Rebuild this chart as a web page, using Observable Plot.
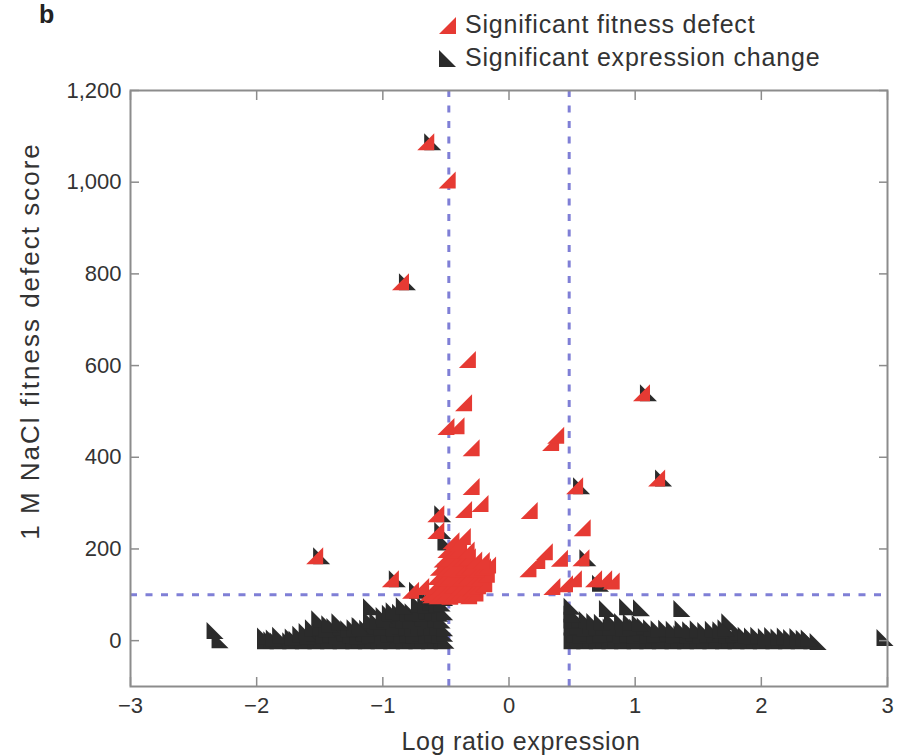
<!DOCTYPE html>
<html>
<head>
<meta charset="utf-8">
<script src="https://cdn.jsdelivr.net/npm/d3@7"></script>
<script src="https://cdn.jsdelivr.net/npm/@observablehq/plot@0.6"></script>
<style>
  body { margin: 0; background: #fff; }
  #wrap { position: relative; width: 904px; height: 756px; font-family: "Liberation Sans", Arial, sans-serif; color: #333; overflow: hidden; }
  #panel { position: absolute; left: 39px; top: 0px; font-weight: bold; font-size: 25px; color: #222; }
  #legend { position: absolute; left: 436px; top: 8px; font-size: 25px; letter-spacing: 0.8px; line-height: 33px; }
  #legend .row { display: flex; align-items: center; white-space: nowrap; }
  #legend svg { margin-right: 7px; }
  #chart { position: absolute; left: 0; top: 70px; }
  #xlabel { position: absolute; left: 271px; width: 500px; top: 727px; text-align: center; font-size: 25px; letter-spacing: 0.7px; }
  #ylabel { position: absolute; left: 30px; top: 341px; transform: translate(-50%, -50%) rotate(-90deg); white-space: nowrap; font-size: 26px; letter-spacing: 2px; }
</style>
</head>
<body>
<div id="wrap">
  <div id="panel">b</div>
  <div id="legend">
    <div class="row"><svg width="22" height="20"><polygon points="3,19 20,19 20,2" fill="#e63a33"/></svg><span>Significant fitness defect</span></div>
    <div class="row"><svg width="22" height="20"><polygon points="3,2 3,19 20,19" fill="#2b2b2b"/></svg><span>Significant expression change</span></div>
  </div>
  <div id="chart"></div>
  <div id="xlabel">Log ratio expression</div>
  <div id="ylabel">1 M NaCl fitness defect score</div>
</div>
<script>
// ---- data ----
const xTicks = [-3, -2, -1, 0, 1, 2, 3];
const yTicks = [0, 200, 400, 600, 800, 1000, 1200];
const xThresholds = [-0.477, 0.477];
const yThreshold = [100];

// Significant fitness defect (red): isolated genes [log ratio, score]
const fitnessOutliers = [
  [-0.66, 1088], [-0.49, 1005], [-0.86, 783], [-0.33, 613], [1.05, 541], [-0.36, 519],
  [-0.50, 467], [-0.42, 469], [-0.30, 421], [0.33, 432], [0.37, 448], [1.17, 355],
  [0.52, 338], [-0.30, 336], [-0.36, 286], [-0.23, 299], [0.16, 284], [-0.58, 277],
  [-0.58, 240], [0.58, 246], [0.28, 194], [0.15, 157], [0.22, 175], [0.40, 180],
  [0.57, 181], [0.34, 118], [0.44, 124], [0.51, 135], [0.67, 135], [0.75, 135],
  [0.81, 130], [-1.54, 185], [-0.94, 135], [-0.78, 110], [-0.70, 118], [-0.64, 105]
];
// Significant fitness defect (red): dense cluster left of the threshold
const fitnessCluster = [
  [-0.62, 100], [-0.57, 98], [-0.52, 102], [-0.47, 97], [-0.42, 100], [-0.37, 103], [-0.32, 98], [-0.27, 104],
  [-0.60, 120], [-0.55, 118], [-0.50, 116], [-0.45, 121], [-0.40, 117], [-0.35, 119], [-0.30, 115], [-0.25, 120], [-0.20, 124],
  [-0.58, 140], [-0.53, 137], [-0.48, 141], [-0.43, 136], [-0.38, 139], [-0.33, 142], [-0.28, 136], [-0.23, 140], [-0.18, 145],
  [-0.56, 160], [-0.51, 158], [-0.46, 162], [-0.41, 157], [-0.36, 160], [-0.31, 163], [-0.26, 156], [-0.21, 161], [-0.17, 165],
  [-0.53, 178], [-0.48, 181], [-0.43, 177], [-0.38, 180], [-0.33, 183], [-0.28, 176], [-0.22, 175],
  [-0.50, 199], [-0.45, 197], [-0.40, 202], [-0.34, 198],
  [-0.46, 218], [-0.41, 214], [-0.37, 227]
];

// Significant expression change (black): left block
const exprLeft = [
  [-2.33, 22], [-2.29, 2],
  [-1.93, 0], [-1.88, 2], [-1.83, 0], [-1.78, 1], [-1.73, 0], [-1.68, 3], [-1.63, 0], [-1.58, 2], [-1.53, 0], [-1.48, 1],
  [-1.43, 0], [-1.38, 2], [-1.33, 0], [-1.28, 1], [-1.23, 0], [-1.18, 2], [-1.13, 0], [-1.08, 1], [-1.03, 0], [-0.98, 2],
  [-0.93, 0], [-0.88, 1], [-0.83, 0], [-0.78, 2], [-0.73, 0], [-0.68, 1], [-0.63, 0], [-0.58, 2], [-0.53, 0], [-0.50, 1],
  [-1.93, 10], [-1.86, 6], [-1.81, 12], [-1.71, 8], [-1.65, 14], [-1.59, 10], [-1.54, 16], [-1.47, 12], [-1.41, 15], [-1.36, 11],
  [-1.30, 16], [-1.25, 13], [-1.20, 10], [-1.15, 16], [-1.10, 12], [-1.05, 15], [-1.00, 11], [-0.95, 14], [-0.90, 16], [-0.85, 12],
  [-0.80, 15], [-0.75, 13], [-0.70, 16], [-0.65, 12], [-0.60, 15], [-0.55, 13], [-0.51, 16],
  [-1.60, 20], [-1.55, 28], [-1.49, 30], [-1.44, 26], [-1.38, 31], [-1.33, 29], [-1.27, 26], [-1.22, 28], [-1.17, 31], [-1.12, 27],
  [-1.06, 32], [-1.01, 29], [-0.96, 31], [-0.91, 28], [-0.86, 32], [-0.81, 30], [-0.76, 28], [-0.71, 33], [-0.66, 30], [-0.61, 29],
  [-0.56, 31], [-0.51, 28],
  [-1.50, 48], [-1.42, 37], [-1.34, 41], [-1.18, 33], [-1.09, 45], [-1.04, 43], [-0.98, 47], [-0.93, 44], [-0.88, 48], [-0.83, 45],
  [-0.78, 46], [-0.73, 44], [-0.68, 49], [-0.63, 46], [-0.58, 47], [-0.53, 45],
  [-1.09, 74], [-0.99, 55], [-0.94, 60], [-0.91, 65], [-0.86, 62], [-0.80, 60], [-0.76, 63], [-0.70, 61], [-0.65, 64], [-0.60, 62],
  [-0.55, 60], [-0.51, 63],
  [-0.83, 76], [-0.71, 80], [-0.66, 78], [-0.62, 85], [-0.57, 80], [-0.53, 82],
  [-0.60, 95], [-0.55, 96], [-0.51, 94]
];
// Significant expression change (black): right block
const exprRight = [
  [0.50, 0], [0.55, 2], [0.60, 0], [0.65, 1], [0.70, 0], [0.75, 2], [0.80, 0], [0.85, 1], [0.90, 0], [0.95, 2],
  [1.00, 0], [1.05, 1], [1.10, 0], [1.15, 2], [1.20, 0], [1.25, 1], [1.30, 0], [1.35, 2], [1.40, 0], [1.45, 1],
  [1.50, 0], [1.55, 2], [1.60, 0], [1.65, 1], [1.70, 0], [1.75, 2], [1.80, 0], [1.85, 1], [1.90, 0], [1.95, 2],
  [2.00, 0], [2.05, 1], [2.10, 0], [2.15, 2], [2.20, 0], [2.25, 1], [2.30, 0], [2.35, 2], [2.40, 0], [2.45, -2],
  [0.52, 15], [0.57, 13], [0.63, 16], [0.68, 12], [0.73, 15], [0.79, 14], [0.84, 16], [0.89, 12], [0.94, 15], [1.00, 13],
  [1.05, 16], [1.10, 12], [1.16, 15], [1.21, 14], [1.26, 16], [1.31, 12], [1.37, 15], [1.42, 13], [1.47, 16], [1.52, 12],
  [1.58, 15], [1.63, 14], [1.68, 18], [1.73, 13], [1.78, 15], [1.83, 19], [1.88, 12], [1.93, 10], [1.98, 12], [2.04, 9],
  [2.09, 11], [2.14, 8], [2.19, 10], [2.24, 7], [2.29, 9], [2.34, 5], [2.38, 6],
  [0.50, 30], [0.55, 32], [0.60, 28], [0.65, 33], [0.70, 29], [0.75, 31], [0.81, 30], [0.86, 33], [0.91, 28], [0.97, 31],
  [1.02, 29], [1.08, 32], [1.13, 28], [1.19, 26], [1.25, 27], [1.31, 25], [1.38, 26], [1.44, 24], [1.50, 26], [1.56, 22],
  [1.62, 25], [1.68, 24], [1.75, 41], [1.72, 28],
  [0.50, 45], [0.56, 48], [0.62, 46], [0.68, 42], [0.74, 40], [0.82, 44], [0.90, 42], [0.97, 40], [1.04, 38],
  [0.50, 58], [0.50, 75], [0.78, 70], [0.94, 74], [1.05, 72], [1.37, 70],
  [2.98, 7]
];
// black markers drawn behind red ones (genes significant for both)
const exprBoth = [
  [-0.605, 1088], [-0.805, 783], [1.105, 541], [1.225, 355], [0.575, 338], [-0.525, 277], [-0.525, 240],
  [-1.485, 185], [-0.885, 135], [0.625, 181], [-0.725, 110], [0.725, 125], [-0.50, 215], [-0.50, 150]
];

const toObj = ([x, y]) => ({x, y});
const fitness = fitnessOutliers.concat(fitnessCluster).map(toObj);
const expr = exprLeft.concat(exprRight, exprBoth).map(toObj);

// right-angled triangle symbols
const triRed = { draw(ctx, size) { const r = Math.sqrt(size / Math.PI); ctx.moveTo(-r, r); ctx.lineTo(r, r); ctx.lineTo(r, -r); ctx.closePath(); } };
const triBlack = { draw(ctx, size) { const r = Math.sqrt(size / Math.PI); ctx.moveTo(-r, -r); ctx.lineTo(-r, r); ctx.lineTo(r, r); ctx.closePath(); } };

const axisGray = "#8c8c8c";
const dashColor = "#7f7fd6";

const chart = Plot.plot({
  width: 904,
  height: 686,
  marginLeft: 130,
  marginRight: 17,
  marginTop: 20,
  marginBottom: 70,
  style: { fontFamily: "'Liberation Sans', Arial, sans-serif", fontSize: "22px", color: "#333", background: "transparent" },
  x: { domain: [-3, 3] },
  y: { domain: [-100, 1200] },
  marks: [
    Plot.ruleY(yThreshold, { stroke: dashColor, strokeWidth: 3, strokeDasharray: "7,8.5" }),
    Plot.ruleX(xThresholds, { stroke: dashColor, strokeWidth: 3, strokeDasharray: "7,8.5" }),
    Plot.dot(expr, { x: "x", y: "y", symbol: triBlack, r: 8.5, fill: "#2b2b2b", stroke: "none" }),
    Plot.dot(fitness, { x: "x", y: "y", symbol: triRed, r: 8.5, fill: "#e63a33", stroke: "none" }),
    Plot.frame({ stroke: axisGray, strokeWidth: 2 }),
    // tick labels
    Plot.axisX(xTicks, { anchor: "bottom", tickSize: 0, tickPadding: 11, label: null, tickFormat: d3.format("") }),
    Plot.axisY(yTicks, { anchor: "left", tickSize: 0, tickPadding: 9, label: null, tickFormat: d3.format(",") }),
    // inward ticks on all four sides
    Plot.axisX(xTicks, { anchor: "bottom", tickSize: 9, dy: -9, text: null, label: null, stroke: axisGray, strokeWidth: 1.5 }),
    Plot.axisX(xTicks, { anchor: "top", tickSize: 9, dy: 9, text: null, label: null, stroke: axisGray, strokeWidth: 1.5 }),
    Plot.axisY(yTicks, { anchor: "left", tickSize: 9, dx: 9, text: null, label: null, stroke: axisGray, strokeWidth: 1.5 }),
    Plot.axisY(yTicks, { anchor: "right", tickSize: 9, dx: -9, text: null, label: null, stroke: axisGray, strokeWidth: 1.5 })
  ]
});
document.getElementById("chart").appendChild(chart);
</script>
</body>
</html>
